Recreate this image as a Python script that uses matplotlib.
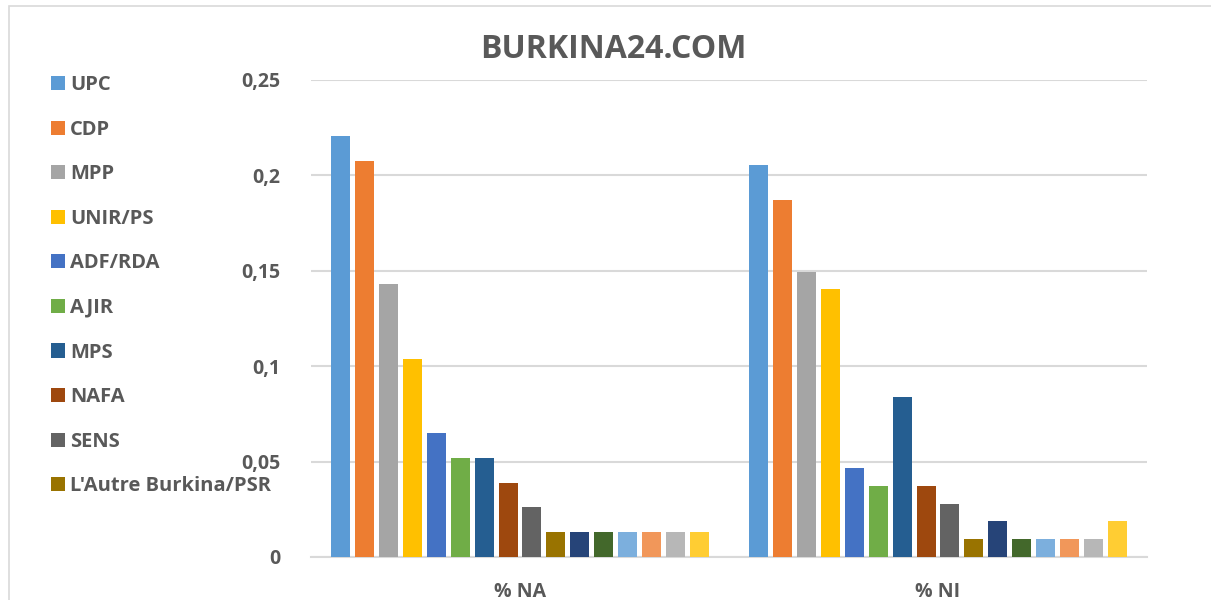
import numpy as np
import matplotlib.pyplot as plt
from matplotlib.patches import Rectangle

categories = ["% NA", "% NI"]
parties = ["UPC", "CDP", "MPP", "UNIR/PS", "ADF/RDA", "AJIR", "MPS", "NAFA",
           "SENS", "L'Autre Burkina/PSR", "Parti 11", "Parti 12", "Parti 13",
           "Parti 14", "Parti 15", "Parti 16"]
share_na = [0.2208, 0.2078, 0.1429, 0.1039, 0.0649, 0.0519, 0.0519, 0.0390,
            0.0260, 0.0130, 0.0130, 0.0130, 0.0130, 0.0130, 0.0130, 0.0130]
share_ni = [0.2056, 0.1869, 0.1495, 0.1402, 0.0467, 0.0374, 0.0841, 0.0374,
            0.0280, 0.0093, 0.0187, 0.0093, 0.0093, 0.0093, 0.0093, 0.0187]
yticks = [0, 0.05, 0.1, 0.15, 0.2, 0.25]
ytick_labels = ["0", "0,05", "0,1", "0,15", "0,2", "0,25"]

colors = ["#5b9bd5", "#ed7d31", "#a5a5a5", "#ffc000", "#4472c4", "#70ad47",
          "#255e91", "#9e480e", "#636363", "#997300", "#264478", "#43682b",
          "#7cafdd", "#f1975a", "#b7b7b7", "#ffcd33"]

txt = "#595959"
plt.rcParams["font.family"] = ["Open Sans", "DejaVu Sans"]
plt.rcParams["font.weight"] = "bold"

fig = plt.figure(figsize=(12.11, 6.0), dpi=100)
W, H = 1211, 600
ax = fig.add_axes([311 / W, 1 - 557 / H, 836 / W, (557 - 80) / H])

x = np.arange(len(categories))
pitch = 0.0572
width = 0.0455
n = len(parties)
for i, name in enumerate(parties):
    vals = [share_na[i], share_ni[i]]
    ax.bar(x + (i - (n - 1) / 2) * pitch, vals, width, color=colors[i],
           label=name, zorder=3)

ax.set_xlim(-0.5, 1.5)
ax.set_ylim(0, 0.25)
ax.set_yticks(yticks)
ax.set_yticklabels(ytick_labels, fontsize=14, color=txt, fontweight="bold")
ax.set_xticks(x)
ax.set_xticklabels(categories, fontsize=14, color=txt, fontweight="bold")
ax.tick_params(axis="y", length=0, pad=22)
ax.tick_params(axis="x", length=0, pad=18)
ax.grid(axis="y", color="#d9d9d9", linewidth=1.5, zorder=0)
for s in ["top", "right", "left"]:
    ax.spines[s].set_visible(False)
ax.spines["bottom"].set_color("#d9d9d9")
ax.spines["bottom"].set_linewidth(1.5)

fig.text(613 / W, 1 - 50 / H, "BURKINA24.COM", ha="center", va="center",
         fontsize=23, color=txt, fontweight="bold")

handles, labels = ax.get_legend_handles_labels()
leg = fig.legend(handles[:10], labels[:10], loc="upper left",
                 bbox_to_anchor=(33 / W, 1 - 57 / H), frameon=False,
                 fontsize=14.5, handlelength=0.7, handleheight=0.7,
                 handletextpad=0.25, labelspacing=1.22)
for t in leg.get_texts():
    t.set_color(txt)
    t.set_fontweight("bold")

fig.patches.append(Rectangle((9 / W, -0.1), 1.2, 1 - 6 / H + 0.1,
                             transform=fig.transFigure, fill=False,
                             edgecolor="#d9d9d9", linewidth=1.2))

fig.savefig("out.png", dpi=100)
